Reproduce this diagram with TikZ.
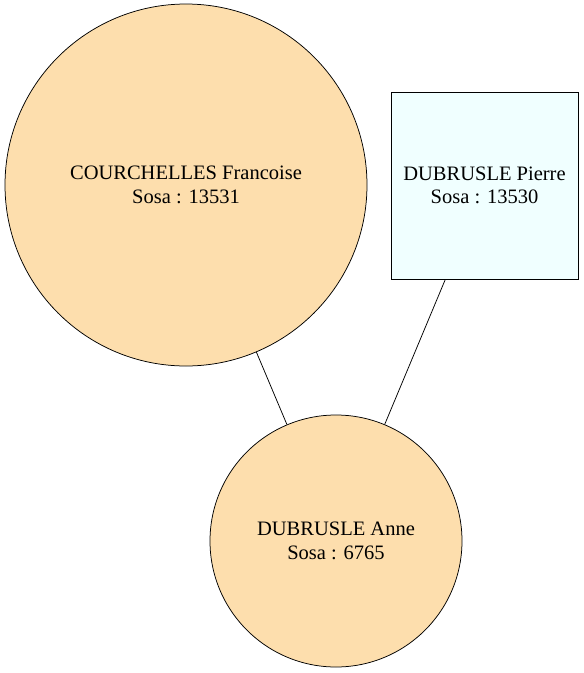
\documentclass[tikz,border=0pt]{standalone}
\usepackage{fontspec}
\setmainfont{Liberation Serif}
\definecolor{femme}{RGB}{253,222,173}
\definecolor{homme}{RGB}{240,255,255}
\tikzset{every picture/.style={line width=0.75pt}}
\tikzset{
  personne/.style={draw, align=center, inner sep=0pt, font=\fontsize{20.5}{23.5}\selectfont},
  fcercle/.style={personne, circle, fill=femme},
  hcarre/.style={personne, rectangle, fill=homme}
}

\begin{document}
\begin{tikzpicture}[x=1pt,y=1pt,yscale=-1,xscale=1]
	\useasboundingbox (0,0) rectangle (584,673);
	
	% Personnes
	\node[fcercle, minimum size=362] (francoise) at (186,185) {COURCHELLES Francoise\\Sosa : 13531};
	\node[hcarre, minimum width=187, minimum height=187] (pierre) at (484.5,185.5) {DUBRUSLE Pierre\\Sosa : 13530};
	\node[fcercle, minimum size=252] (anne) at (336,541) {DUBRUSLE Anne\\Sosa : 6765};
	
	% Liens
	\draw (francoise) -- (anne);
	\draw (pierre) -- (anne);
\end{tikzpicture}
\end{document}
